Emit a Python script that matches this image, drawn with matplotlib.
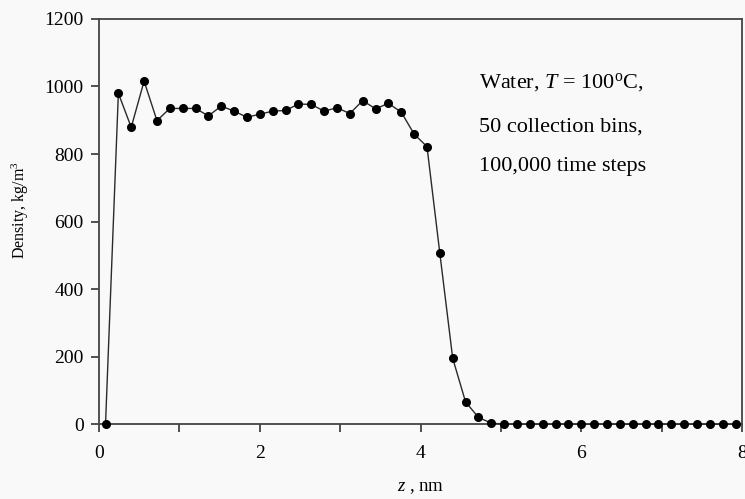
import numpy as np
import matplotlib.pyplot as plt

plt.rcParams['font.family'] = 'Liberation Serif'
plt.rcParams['mathtext.fontset'] = 'custom'
plt.rcParams['mathtext.rm'] = 'Liberation Serif'
plt.rcParams['mathtext.it'] = 'Liberation Serif:italic'

# 50 collection bins across 8 nm, values at bin centres
z = np.arange(50) * 0.16 + 0.08
density = [0, 980, 879, 1016, 899, 935, 935, 935, 913, 942,
           927, 909, 918, 927, 929, 948, 947, 927, 937, 920,
           958, 934, 950, 924, 859, 822, 506, 195, 66, 20,
           3, 0, 0, 0, 0, 0, 0, 0, 0, 0,
           0, 0, 0, 0, 0, 0, 0, 0, 0, 0]
notes = ['Water, $T$ = 100$^{\\mathrm{o}}$C,', '50 collection bins,', '100,000 time steps']

fig = plt.figure(figsize=(7.45, 4.99), dpi=100)
fig.patch.set_facecolor('#f9f9f9')
ax = fig.add_axes([0.133, 0.150, 0.863, 0.812])
ax.set_facecolor('#f9f9f9')

ax.plot(z, density, color='#2a2a2a', lw=1.0, marker='o', ms=5.5,
        mfc='black', mec='black', clip_on=False, zorder=3)

ax.set_xlim(0, 8)
ax.set_ylim(0, 1200)
ax.set_xticks([0, 2, 4, 6, 8])
ax.set_xticks([1, 3, 5, 7], minor=True)
ax.set_yticks(np.arange(0, 1201, 200))
ax.tick_params(which='both', direction='out', length=6, width=1.2,
               color='#333333', labelsize=14, pad=5)
ax.tick_params(axis='x', pad=9)
for s in ax.spines.values():
    s.set_color('#444444')
    s.set_linewidth(1.3)

ax.set_xlabel('$z$ , nm', fontsize=13.5, labelpad=12)
ax.set_ylabel('Density, kg/m$^3$', fontsize=11.5)
ax.yaxis.set_label_coords(-0.106, 0.528)

for y, s in zip([0.842, 0.733, 0.635], notes):
    ax.text(0.591, y, s, transform=ax.transAxes, fontsize=16,
            ha='left', va='center')

fig.savefig('out.png', dpi=100, facecolor=fig.get_facecolor())
